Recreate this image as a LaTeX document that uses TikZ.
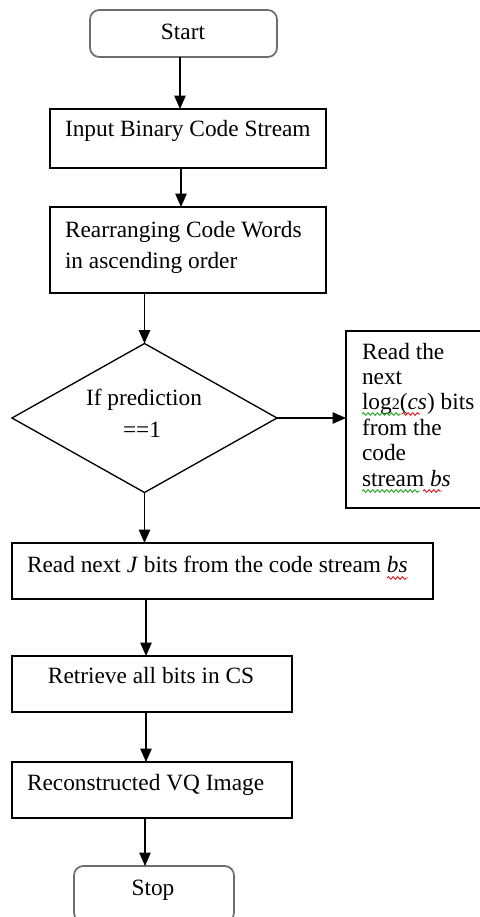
\documentclass[tikz,border=0pt]{standalone}
\usepackage{fontspec}
\setmainfont{Liberation Serif}
\usetikzlibrary{shapes.geometric,arrows.meta,decorations.pathmorphing}

\definecolor{termgray}{RGB}{110,110,110}
\definecolor{spellred}{RGB}{225,30,30}
\definecolor{spellgreen}{RGB}{40,170,40}

\tikzset{
  box/.style={draw=black, line width=1pt, inner sep=0pt, outer sep=0pt},
  term/.style={draw=termgray, line width=1.3pt, rounded corners=7pt, inner sep=0pt, outer sep=0pt},
  dim/.style 2 args={minimum width=#1*0.75pt, minimum height=#2*0.75pt},
  lbl/.style={inner sep=0pt, outer sep=0pt, font=\fontsize{17.5}{20}\selectfont},
  arr/.style={draw=black, line width=1pt, -{Triangle[length=10pt,width=8.5pt]}},
  squig/.style={line width=0.7pt, decorate, decoration={snake, amplitude=1pt, segment length=3.5pt}}
}

\begin{document}
\begin{tikzpicture}[x=0.75pt, y=-0.75pt]
  \useasboundingbox (0,0) rectangle (479,917);

  % frames
  \node[term, dim={187}{47}] (start) at (183.5,33.5) {};
  \node[box,  dim={276}{59}] (input) at (188,138.5) {};
  \node[box,  dim={276}{86}] (rearr) at (188,250) {};
  \node[box, diamond, dim={265}{149}] (dec) at (144.5,418) {};
  \node[box,  dim={136}{177}] (side) at (414,419.5) {};
  \node[box,  dim={421}{56}] (readj) at (222.5,571) {};
  \node[box,  dim={280}{56}] (retr) at (152,684) {};
  \node[box,  dim={280}{56}] (recon) at (152,790) {};
  \node[term, dim={160}{56}] (stop) at (154,894) {};

  % texts
  \node[lbl, anchor=base] (tstart) at (183,40) {Start};
  \node[lbl, anchor=base west] (tinput) at (65,137) {Input Binary Code Stream};
  \node[lbl, anchor=base west] (trearA) at (65,237) {Rearranging Code Words};
  \node[lbl, anchor=base west] (trearB) at (65,268) {in ascending order};
  \node[lbl, anchor=base] (tdecA) at (144,405) {If prediction};
  \node[lbl, anchor=base] (tdecB) at (142,437) {==1};
  \node[lbl, anchor=base west] (tsideA) at (362,359) {Read the};
  \node[lbl, anchor=base west] (tsideB) at (362,384) {next};
  \node[lbl, anchor=base west] (tsideC) at (362,409) {log{\fontsize{12}{12}\selectfont 2}(\textit{cs}) bits};
  \node[lbl, anchor=base west] (tsideD) at (362,435) {from the};
  \node[lbl, anchor=base west] (tsideE) at (362,460) {code};
  \node[lbl, anchor=base west] (tsideF) at (362,486) {stream \textit{bs}};
  \node[lbl, anchor=base west] (treadj) at (27,572) {Read next \textit{J} bits from the code stream \textit{bs}};
  \node[lbl, anchor=base] (tretr) at (151,683) {Retrieve all bits in CS};
  \node[lbl, anchor=base west] (trecon) at (27,790) {Reconstructed VQ Image};
  \node[lbl, anchor=base] (tstop) at (153,895) {Stop};

  % spell-check underlines
  \draw[squig, spellgreen] (362,414) -- (402,414);
  \draw[squig, spellred] (402,414) -- (420,414);
  \draw[squig, spellgreen] (362,491) -- (420,491);
  \draw[squig, spellred] (423,491) -- (442,491);
  \draw[squig, spellred] (387,578) -- (408,578);

  % flow
  \draw[arr] (start.south -| 180,0) -- (input.north -| 180,0);
  \draw[arr] (input.south -| 181,0) -- (rearr.north -| 181,0);
  \draw[arr] (rearr.south -| dec.north) -- (dec.north);
  \draw[arr] (dec.east) -- (side.west |- dec.east);
  \draw[arr] (dec.south) -- (readj.north -| dec.south);
  \draw[arr] (readj.south -| 146,0) -- (retr.north -| 146,0);
  \draw[arr] (retr.south -| 146,0) -- (recon.north -| 146,0);
  \draw[arr] (recon.south -| 145,0) -- (stop.north -| 145,0);
\end{tikzpicture}
\end{document}
